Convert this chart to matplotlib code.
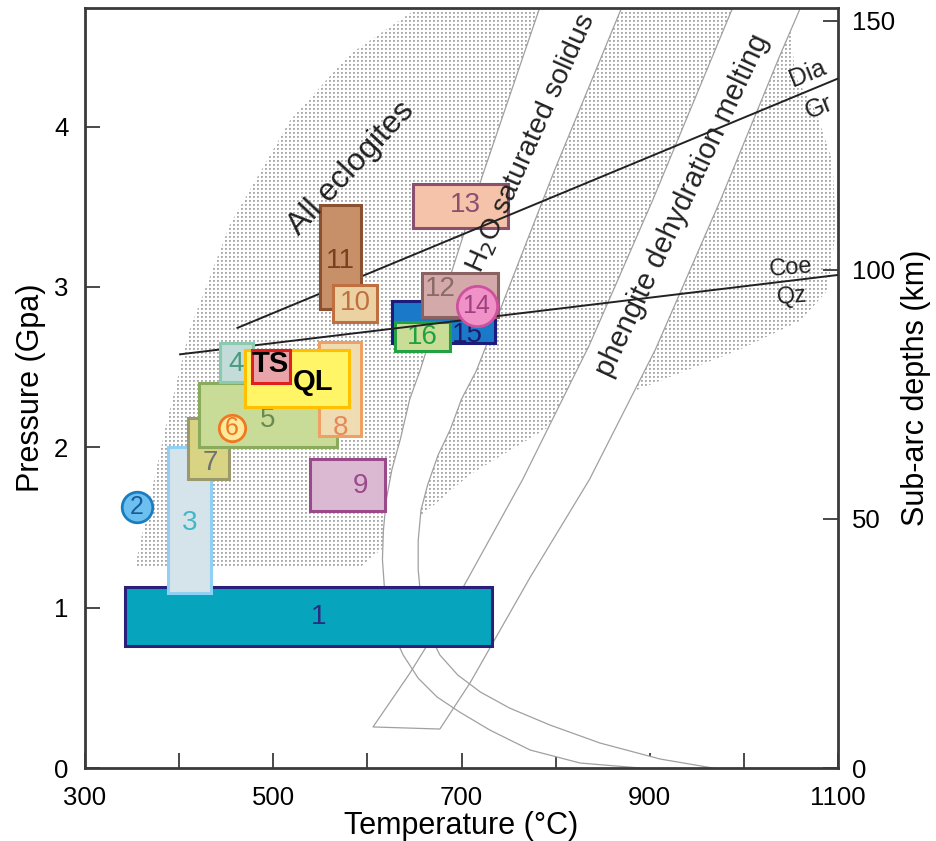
import numpy as np
import matplotlib.pyplot as plt
from matplotlib.patches import Polygon, Rectangle

plt.rcParams['font.family'] = ['Liberation Sans', 'DejaVu Sans']

# axis ranges
t_min, t_max = 300, 1100
p_max = 4.74
depth_max = 152.6

# stippled field of all eclogites (T degC, P GPa)
ecl_T = [353, 385, 411, 454, 518, 581, 651, 1049, 1054, 1076, 1094, 1098, 1089, 1060, 996, 900, 805, 709, 592]
ecl_P = [1.25, 2.11, 2.73, 3.39, 4.04, 4.45, 4.73, 4.74, 4.32, 4.10, 3.79, 3.36, 2.98, 2.79, 2.61, 2.39, 2.17, 1.83, 1.25]

# H2O-saturated solidus band
sol_left_T = [783, 722, 656, 645, 635, 626, 620, 617, 616, 619, 626, 638, 654, 674, 698, 730, 773, 826, 890]
sol_left_P = [4.74, 3.69, 2.48, 2.30, 2.05, 1.86, 1.67, 1.48, 1.30, 1.05, 0.86, 0.705, 0.56, 0.443, 0.349,
              0.237, 0.112, 0.031, 0.0]
sol_right_T = [870, 799, 716, 700, 688, 675, 664, 657, 654, 654, 657, 664, 677, 696, 720, 751, 794, 847, 911, 967]
sol_right_P = [4.74, 3.73, 2.48, 2.30, 2.11, 1.95, 1.765, 1.61, 1.42, 1.235, 1.048, 0.86, 0.705, 0.58, 0.474,
               0.374, 0.268, 0.156, 0.056, 0.0]

# phengite dehydration melting band
phe_left_T = [988, 903, 836, 765, 702, 645, 606]
phe_left_P = [4.74, 3.54, 2.64, 1.80, 1.13, 0.59, 0.256]
phe_right_T = [1060, 1038, 975, 906, 836, 773, 709, 677]
phe_right_P = [4.74, 4.44, 3.54, 2.61, 1.80, 1.19, 0.53, 0.243]

# reaction lines
diagr_T = [462, 1100]
diagr_P = [2.745, 4.30]
coeqz_T = [401, 1100]
coeqz_P = [2.58, 3.075]

# P-T boxes: name, T range, P range
box_names = ['1', '3', '7', '9', '13', '15', '16', '12', '5', '4', '8', 'QL', 'TS', '11', '10']
box_T = [(342, 732), (388, 434), (409, 453), (539, 619), (648, 749), (626, 736), (629, 688),
         (658, 739), (421, 568), (443, 478), (549, 593), (470, 581), (477, 518), (550, 593), (563, 610)]
box_P = [(0.76, 1.13), (1.09, 2.00), (1.80, 2.18), (1.60, 1.93), (3.37, 3.64), (2.65, 2.91), (2.60, 2.78),
         (2.81, 3.09), (2.00, 2.40), (2.41, 2.65), (2.07, 2.66), (2.25, 2.61), (2.40, 2.61), (2.86, 3.51), (2.78, 3.01)]
box_face = ['#06a4bd', '#d5e3ea', '#d9d483', '#dbb9d3', '#f5c2aa', '#1a7ac9', '#c9dd97',
            '#d4a9a9', '#c8dc98', '#c3dcd9', '#f0dcb2', '#fff566', '#e8a4a8', '#c89069', '#ecd2a2']
box_edge = ['#2b1f7c', '#8fd0f5', '#9a9a6c', '#9a4a8a', '#8a5070', '#1c1c7c', '#22a044',
            '#8a6262', '#8aab5c', '#8ccab0', '#f0a062', '#ffc000', '#e02020', '#8a5030', '#c07040']
# label text positions and colours
lab_T = [548, 411, 433, 593, 704, 706, 658, 677, 494, 461, 571, 542, 497, 571, 587]
lab_P = [0.94, 1.53, 1.90, 1.76, 3.51, 2.70, 2.69, 2.99, 2.17, 2.52, 2.12, 2.41, 2.52, 3.16, 2.90]
lab_color = ['#2b2b80', '#3fb8c8', '#6e7272', '#9a4a8a', '#8a5070', '#1c1c6a', '#20a040',
             '#8a6a6a', '#6a8a50', '#4a9a80', '#e8885a', 'black', 'black', '#7a4020', '#c07040']
lab_bold = [False] * 11 + [True, True, False, False]

# circled samples
circ_names = ['2', '6', '14']
circ_T = [355, 456, 716]
circ_P = [1.63, 2.12, 2.88]
circ_face = ['#6cc0ef', '#fde99c', '#f092c8']
circ_edge = ['#1a7dc0', '#f07820', '#d050a0']
circ_size = [22, 19, 29]
circ_lab = ['#1a5a9a', '#f07820', '#a04080']

fig = plt.figure(figsize=(9.36, 8.41), dpi=100)
ax = fig.add_axes([85 / 936, 73 / 841, 753 / 936, 760 / 841])
ax.set_xlim(t_min, t_max)
ax.set_ylim(0, p_max)

# dot-screen texture clipped to the eclogite field
h, w = 760, 753
tex = np.ones((h, w, 3))
dot = 0.68
tex[::4, ::4] = dot
tex[1::4, ::4] = dot
tex[::4, 1::4] = dot
tex[1::4, 1::4] = 0.78
ecl = Polygon(np.column_stack([ecl_T, ecl_P]), closed=True, facecolor='none', edgecolor='none')
ax.add_patch(ecl)
im = ax.imshow(tex, extent=(t_min, t_max, 0, p_max), aspect='auto', interpolation='nearest', zorder=1)
im.set_clip_path(ecl)

# white melting bands
sol = np.column_stack([sol_left_T + sol_right_T[::-1], sol_left_P + sol_right_P[::-1]])
phe = np.column_stack([phe_left_T + phe_right_T[::-1], phe_left_P + phe_right_P[::-1]])
ax.add_patch(Polygon(sol, closed=True, facecolor='white', edgecolor='none', zorder=2))
ax.add_patch(Polygon(phe, closed=True, facecolor='white', edgecolor='none', zorder=2))
lc = '#a0a0a0'
ax.plot(sol_left_T, sol_left_P, color=lc, lw=0.9, zorder=2.5)
ax.plot(sol_right_T, sol_right_P, color=lc, lw=0.9, zorder=2.5)
ax.plot(phe_left_T + phe_right_T[::-1], phe_left_P + phe_right_P[::-1], color=lc, lw=0.9, zorder=2.5)

# boxes; later ones sit on top
upper = {'5', '4', '8', 'QL', 'TS', '11', '10'}
for i, name in enumerate(box_names):
    t0, t1 = box_T[i]
    p0, p1 = box_P[i]
    z = 6 + i * 0.01 if name in upper else 3 + i * 0.01
    ax.add_patch(Rectangle((t0, p0), t1 - t0, p1 - p0, facecolor=box_face[i],
                           edgecolor=box_edge[i], lw=2.2, zorder=z))
    ax.text(lab_T[i], lab_P[i], name, color=lab_color[i], fontsize=21 if lab_bold[i] else 20,
            fontweight='bold' if lab_bold[i] else 'normal', ha='center', va='center', zorder=z + 0.001)

for i, name in enumerate(circ_names):
    ax.plot(circ_T[i], circ_P[i], 'o', ms=circ_size[i], mfc=circ_face[i], mec=circ_edge[i], mew=2, zorder=7)
    ax.text(circ_T[i], circ_P[i], name, color=circ_lab[i], fontsize=18, ha='center', va='center', zorder=7.1)

# Dia/Gr and Coe/Qz reactions
ax.plot(diagr_T, diagr_P, color='#222222', lw=1.4, zorder=5)
ax.plot(coeqz_T, coeqz_P, color='#222222', lw=1.4, zorder=5)
ax.text(1068, 4.33, 'Dia', fontsize=18, rotation=22, ha='center', va='center', color='#222222')
ax.text(1080, 4.12, 'Gr', fontsize=18, rotation=22, ha='center', va='center', color='#222222')
ax.text(1050, 3.12, 'Coe', fontsize=17, rotation=5, ha='center', va='center', color='#222222')
ax.text(1051, 2.94, 'Qz', fontsize=17, rotation=5, ha='center', va='center', color='#222222')

ax.text(583, 3.74, 'All eclogites', fontsize=23, rotation=47, ha='center', va='center', color='#222222', zorder=8)
ax.text(774, 3.90, 'H$_2$O saturated solidus', fontsize=20.5, rotation=66, ha='center', va='center', color='#222222', zorder=8)
ax.text(935, 3.51, 'phengite dehydration melting', fontsize=21, rotation=65, ha='center', va='center', color='#222222', zorder=8)

# axes styling
spine_c = '#3a3a3a'
for s in ax.spines.values():
    s.set_color(spine_c)
    s.set_linewidth(2)
ax.set_xticks([300, 500, 700, 900, 1100])
ax.set_xticks([400, 600, 800, 1000], minor=True)
ax.set_yticks([0, 1, 2, 3, 4])
ax.tick_params(which='both', direction='in', length=11, width=1.3, color=spine_c, labelsize=18.5, top=False, right=False)
ax.tick_params(axis='x', pad=13)
ax.tick_params(axis='y', pad=12)
ax.set_xlabel('Temperature (°C)', fontsize=22, labelpad=1)
ax.set_ylabel('Pressure (Gpa)', fontsize=22, labelpad=6)

ax2 = ax.twinx()
ax2.set_ylim(0, depth_max)
ax2.set_yticks([0, 50, 100, 150])
ax2.tick_params(direction='in', length=11, width=1.3, color=spine_c, labelsize=18.5, pad=10)
for s in ax2.spines.values():
    s.set_visible(False)
ax2.set_ylabel('Sub-arc depths (km)', fontsize=22, labelpad=4)

fig.savefig('out.png', dpi=100)
